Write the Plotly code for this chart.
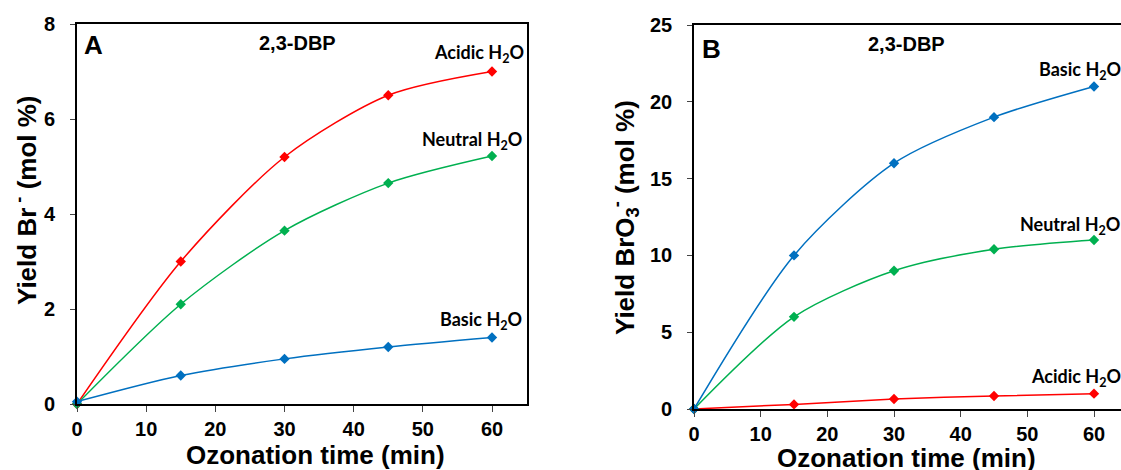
import plotly.graph_objects as go

time_min = [0, 15, 30, 45, 60]

# Panel A: Br- yield (mol %)
a_acidic = [0.0, 3.0, 5.2, 6.5, 7.0]
a_neutral = [0.0, 2.1, 3.65, 4.65, 5.22]
a_basic = [0.05, 0.6, 0.95, 1.2, 1.4]

# Panel B: BrO3- yield (mol %)
b_basic = [0.0, 10.0, 16.0, 19.0, 21.0]
b_neutral = [0.0, 6.0, 9.0, 10.4, 11.0]
b_acidic = [0.0, 0.3, 0.65, 0.85, 1.0]

x_ticks = [0, 10, 20, 30, 40, 50, 60]
a_yticks = [0, 2, 4, 6, 8]
b_yticks = [0, 5, 10, 15, 20, 25]

RED = "#FF0000"
GREEN = "#00B050"
BLUE = "#0070C0"

W, H = 1121, 470
L, R, T, B = 77, 0, 24, 61
PW, PH = W - L - R, H - T - B

def px2x(px):
    return (px - L) / PW

def px2y(py):
    return (H - B - py) / PH

fig = go.Figure()

def add(xa, ya, y, color):
    fig.add_trace(go.Scatter(
        x=time_min, y=y, mode="lines+markers", xaxis=xa, yaxis=ya,
        line=dict(color=color, width=1.5, shape="spline", smoothing=0.8),
        marker=dict(symbol="diamond", size=8, color=color),
        showlegend=False, cliponaxis=False))

add("x", "y", a_acidic, RED)
add("x", "y", a_neutral, GREEN)
add("x", "y", a_basic, BLUE)
add("x2", "y2", b_acidic, RED)
add("x2", "y2", b_neutral, GREEN)
add("x2", "y2", b_basic, BLUE)

tickfont = dict(family="Liberation Sans, Arial", size=20, color="black", weight="bold")
titlefont = dict(family="Liberation Sans, Arial", size=26, color="black", weight="bold")

def xaxis(domain, rng, anchor, mirror=True):
    return dict(domain=domain, range=rng, anchor=anchor, tickvals=x_ticks,
                showgrid=False, zeroline=False, showline=True, linecolor="black",
                linewidth=1.5, mirror=mirror, ticks="outside", ticklen=6,
                tickcolor="#444", tickwidth=1, tickfont=tickfont,
                automargin=False)

def yaxis(domain, rng, anchor, tickvals, mirror=True):
    # a white spacer digit after each label widens the gap to the axis
    ticktext = [f"{v}<span style='color:white'>0</span>" for v in tickvals]
    return dict(domain=domain, range=rng, anchor=anchor, tickvals=tickvals,
                ticktext=ticktext,
                showgrid=False, zeroline=False, showline=True, linecolor="black",
                linewidth=1.5, mirror=mirror, ticks="outside", ticklen=5,
                tickcolor="#444", tickwidth=1, tickfont=tickfont,
                automargin=False)

# Panel A: x=0 at 77px, x=60 at 492px, right edge 527px ; y=8 at 24px, y=0 at 404px
a_xmax = (527 - 77) / ((492 - 77) / 60)
# Panel B: x=0 at 694px, x=60 at 1094px ; y=25 at 25px, y=0 at 409px
b_xmax = (W - 694) / ((1094 - 694) / 60)

fig.update_layout(
    width=W, height=H,
    margin=dict(l=L, r=R, t=T, b=B, autoexpand=False),
    paper_bgcolor="white", plot_bgcolor="white",
    xaxis=xaxis([px2x(77), px2x(527)], [0, a_xmax], "y"),
    yaxis=yaxis([px2y(404), px2y(24)], [0, 8], "x", a_yticks),
    xaxis2=xaxis([px2x(694), 1.0], [0, b_xmax], "y2"),
    yaxis2=yaxis([px2y(409), px2y(25)], [0, 25], "x2", b_yticks, mirror="ticks"),
)

labfont = dict(family="Lato, Open Sans", size=18, color="black", weight="bold")
big = dict(family="Liberation Sans, Arial", size=26, color="black", weight="bold")
mid = dict(family="Liberation Sans, Arial", size=20, color="black", weight="bold")

ann = [
    dict(text="A", x=93, y=45, font=big),
    dict(text="2,3-DBP", x=297, y=43, font=mid),
    dict(text="B", x=711, y=49, font=big),
    dict(text="2,3-DBP", x=906, y=44, font=mid),
    dict(text="Ozonation time (min)", x=315, y=455, font=titlefont),
    dict(text="Ozonation time (min)", x=906, y=458, font=titlefont),
    dict(text="Yield Br<sup> -</sup> (mol %)", x=25, y=200, font=titlefont, textangle=-90),
    dict(text="Yield BrO<sub>3</sub><sup>-</sup> (mol %)", x=625, y=218, font=titlefont,
         textangle=-90),
]
for a in ann:
    a = dict(a)
    a["x"] = px2x(a["x"])
    a["y"] = px2y(a["y"])
    fig.add_annotation(xref="paper", yref="paper", showarrow=False,
                       xanchor="center", yanchor="middle", **a)

labels = [
    ("Acidic H<sub>2</sub>O", 526, 53, "right"),
    ("Neutral H<sub>2</sub>O", 524, 140, "right"),
    ("Basic H<sub>2</sub>O", 524, 320, "right"),
    ("Basic H<sub>2</sub>O", 1037, 70, "left"),
    ("Neutral H<sub>2</sub>O", 1018, 226, "left"),
    ("Acidic H<sub>2</sub>O", 1029, 377, "left"),
]
for t, px, py, anc in labels:
    fig.add_annotation(xref="paper", yref="paper", showarrow=False,
                       x=px2x(px), y=px2y(py), xanchor=anc, yanchor="middle",
                       text=t, font=labfont)

fig.write_html("out.html", config={"displayModeBar": False},
               post_script="document.body.style.margin='0';")
